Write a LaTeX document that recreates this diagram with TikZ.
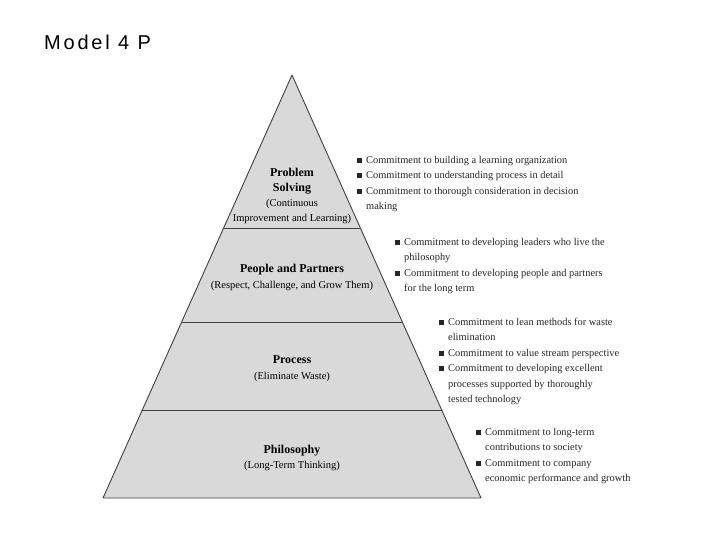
\documentclass[tikz,border=0pt]{standalone}
\usepackage{fontspec}
\setmainfont{Liberation Serif}
\newfontfamily\titlefont[LetterSpace=14]{Liberation Sans}
\usetikzlibrary{calc}
\newcommand{\sq}{\makebox[9pt][l]{\raisebox{0.5pt}{\rule{5pt}{5pt}}}}
\newcommand{\ind}{\hspace*{9pt}}
\tikzset{
level/.style={draw=black!75,line width=0.9pt},
heading/.style={font=\fontsize{12}{15}\selectfont\bfseries,align=center,inner sep=0pt},
subhead/.style={font=\fontsize{10.5}{15}\selectfont,align=center,inner sep=0pt},
blist/.style={font=\fontsize{10.4}{15.4}\selectfont,align=left,anchor=north west,inner sep=0pt,text=black!85}
}
\begin{document}
\begin{tikzpicture}[x=1pt,y=-1pt]
\useasboundingbox[fill=white] (0,0) rectangle (720,540);
\node[font=\titlefont\fontsize{20}{24}\selectfont,anchor=base west,inner sep=0pt] (title) at (44,50) {Model 4 P};
% the pyramid
\coordinate (apex) at (292,75);
\coordinate (bl) at (103,498);
\coordinate (br) at (481,498);
\filldraw[fill=black!15,draw=black!75,line width=0.9pt,line join=round] (apex) -- (bl) -- (br) -- cycle;
\foreach \t/\n in {0.3617/a,0.584/b,0.792/c}
{
  \draw[level] ($(apex)!\t!(bl)$) coordinate (l\n) -- ($(apex)!\t!(br)$) coordinate (r\n);
}
% the levels
\node[heading,anchor=base] (ps1) at (292,177) {Problem};
\node[heading,anchor=base] (ps2) at (292,192) {Solving};
\node[subhead,anchor=base] (ps3) at (292,207) {(Continuous};
\node[subhead,anchor=base] (ps4) at (292,222) {Improvement and Learning)};
\node[heading,anchor=base] (pp1) at (292,272) {People and Partners};
\node[subhead,anchor=base] (pp2) at (292,288) {(Respect, Challenge, and Grow Them)};
\node[heading,anchor=base] (pr1) at (292,363) {Process};
\node[subhead,anchor=base] (pr2) at (292,379) {(Eliminate Waste)};
\node[heading,anchor=base] (ph1) at (292,453) {Philosophy};
\node[subhead,anchor=base] (ph2) at (292,468) {(Long-Term Thinking)};
% the commitments
\node[blist] (cps) at (357,156) {\sq Commitment to building a learning organization\\
\sq Commitment to understanding process in detail\\
\sq Commitment to thorough consideration in decision\\
\ind making};
\node[blist] (cpp) at (395,238) {\sq Commitment to developing leaders who live the\\
\ind philosophy\\
\sq Commitment to developing people and partners\\
\ind for the long term};
\node[blist] (cpr) at (439,318) {\sq Commitment to lean methods for waste\\
\ind elimination\\
\sq Commitment to value stream perspective\\
\sq Commitment to developing excellent\\
\ind processes supported by thoroughly\\
\ind tested technology};
\node[blist] (cph) at (476,428) {\sq Commitment to long-term\\
\ind contributions to society\\
\sq Commitment to company\\
\ind economic performance and growth};
\end{tikzpicture}
\end{document}
